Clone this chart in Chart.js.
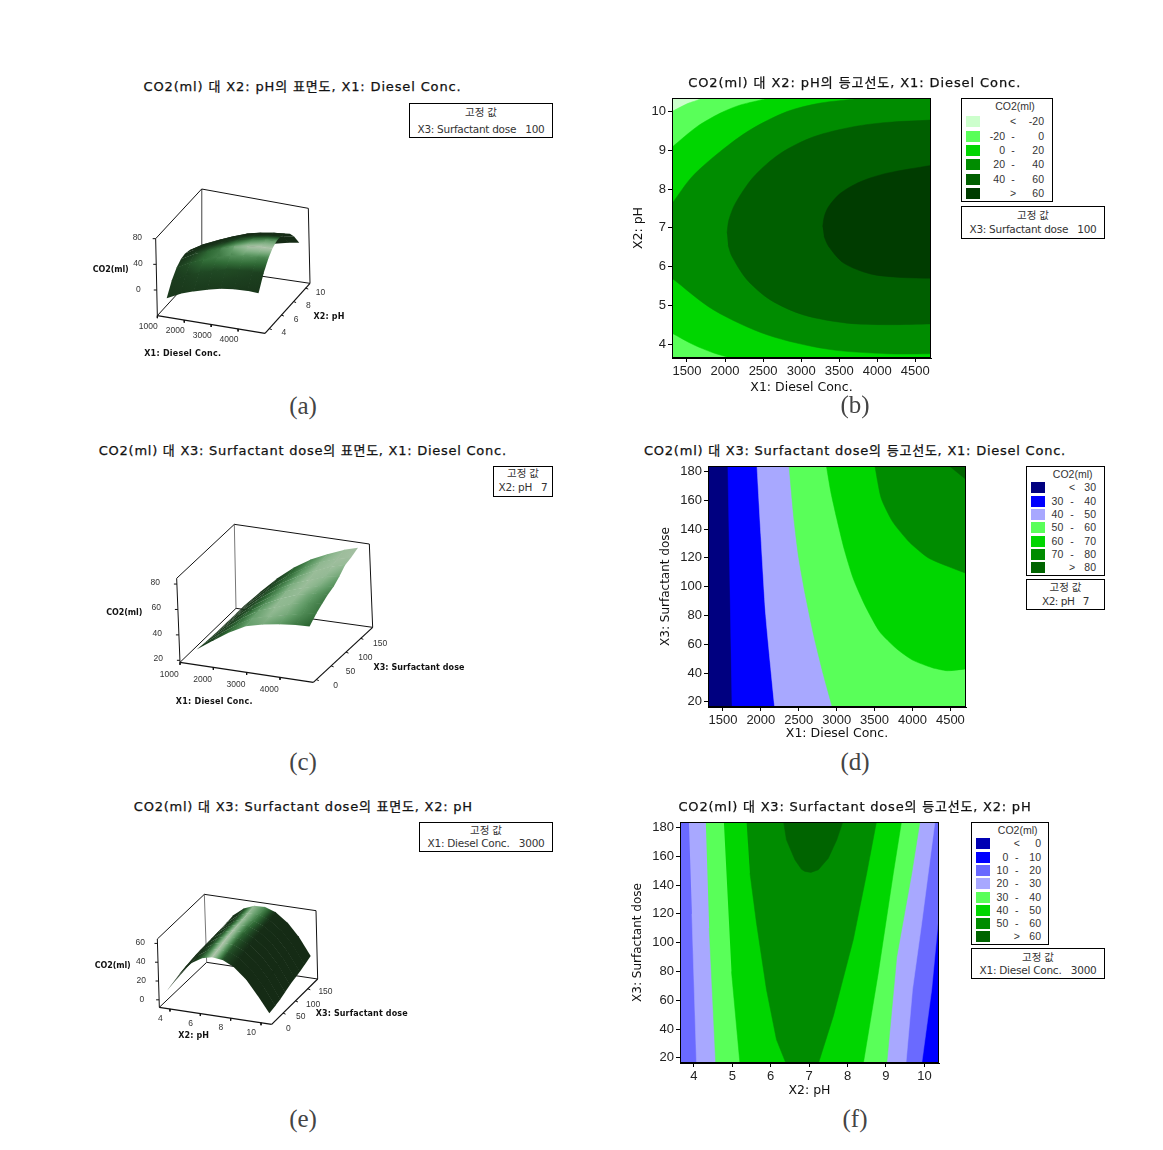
<!DOCTYPE html>
<html lang="ko">
<head>
<meta charset="utf-8">
<script src="https://cdn.jsdelivr.net/npm/chart.js@4"></script>
<style>
html,body{margin:0;padding:0;background:#fff;width:1163px;height:1150px;overflow:hidden}
#stage{position:relative;width:1163px;height:1150px}
canvas{position:absolute;display:block}
.t{position:absolute;white-space:pre;line-height:1;color:#111}
.box{position:absolute;box-sizing:border-box;border:1px solid #000;background:#fff}
.sw{position:absolute}
</style>
</head>
<body>
<div id="stage"></div>
<script>
/* ---------- surface data ---------- */
const x1Grid = [1300,1800,2300,2800,3300,3800,4300,4700];
const phGrid = [3.65,4.5,5.3,6,6.7,7.4,8.1,8.9,9.6,10.35];
const x3Grid = [16.4,40,60,80,100,120,140,160,183.6];

/* panel (a): rows = x1Grid, columns = phGrid */
const co2A_1300 = [-13.4,4.7,16.3,22.2,24,21.8,15.6,3.6,-11.2,-31.5];
const co2A_1800 = [-3.2,15.4,27.5,33.8,36,34.2,28.4,16.9,2.5,-17.4];
const co2A_2300 = [4,23.1,35.7,42.3,44.9,43.6,38.2,27.1,13.1,-6.4];
const co2A_2800 = [10.2,29.8,42.8,49.8,52.9,51.9,46.9,36.3,22.7,3.6];
const co2A_3300 = [15.4,35.4,48.8,56.3,59.7,59.2,54.6,44.4,31.2,12.6];
const co2A_3800 = [17.9,38.5,52.4,60.2,64.1,63.9,59.7,50,37.2,19];
const co2A_4300 = [19,40,54.4,62.6,66.9,67.1,63.3,54.1,41.7,23.9];
const co2A_4700 = [18.4,39.8,54.6,63.2,67.8,68.3,64.9,56,44,26.6];

/* panel (c): rows = x3Grid, columns = x1Grid */
const co2C_016 = [24.3,33.2,41.7,48.5,51.8,54,55.5,56];
const co2C_040 = [23.7,33.5,42.4,49.6,52.9,56,59,61];
const co2C_060 = [23.3,34,43.4,51.3,55.8,60.6,63.5,64.3];
const co2C_080 = [23,34.3,44.2,52.2,58.5,63.5,66.3,67.3];
const co2C_100 = [23,34.7,45.1,53.4,60.2,64.5,68,69.3];
const co2C_120 = [23,35.1,45.9,54.8,61.6,66.3,71,73];
const co2C_140 = [23,35.4,46.5,55.8,63.2,69.4,74.7,77.5];
const co2C_160 = [23,35.7,47.5,57.1,65.3,72,76.5,79];
const co2C_184 = [23,36.1,48.4,58.8,66.9,73.1,78.4,81.5];

/* panel (e): rows = x3Grid, columns = phGrid */
const co2E_016 = [8,27.6,40.8,47.8,50.6,49.3,43.7,32.1,17.5,0.5];
const co2E_040 = [9.5,29,42.5,49.8,52.9,51.7,46.4,35.1,20.7,2];
const co2E_060 = [10.5,30.1,43.9,51.4,54.7,53.8,48.7,37.7,23.6,3.7];
const co2E_080 = [11.5,31.1,45.1,52.8,56.3,55.6,50.6,39.8,25.8,6.2];
const co2E_100 = [12.5,31.6,45.8,53.8,57.5,57,52.3,41.8,28.1,8.7];
const co2E_120 = [13.5,32,46.5,54.6,58.5,58.2,53.7,43.4,29.9,10.6];
const co2E_140 = [13.7,31.8,46.5,54.8,59,58.9,54.7,44.6,31.3,12.4];
const co2E_160 = [14,32.5,47.4,56,60.3,60.4,56.3,46.5,33.4,14.6];
const co2E_184 = [14.5,33.4,48.6,57.4,62,62.3,58.5,48.9,36,17.6];

/* ---------- contour boundaries ---------- */
const bAboveM20 = [[1250,9.95],[1303,10],[1500,10.2],[1700,10.36],[1750,10.6],[4800,10.6],[4800,3],[1250,3]];
const bAbove0 = [[1250,9],[1303,9.08],[1631,9.61],[1938,9.96],[2201,10.17],[2542,10.34],[2700,10.5],[4800,10.6],[4800,3],[2150,3.55],[2069,3.64],[1850,3.77],[1588,3.98],[1303,4.28],[1250,4.33]];
const bAbove20 = [[1250,7.55],[1303,7.63],[1566,8.32],[1938,8.97],[2332,9.53],[2814,10],[3252,10.22],[3734,10.34],[4000,10.5],[4800,10.5],[4800,3.75],[4706,3.75],[4128,3.75],[3340,3.87],[2551,4.24],[1850,4.88],[1303,5.7],[1250,5.78]];
const bAbove40 = [[2026,6.86],[2050,7.2],[2135,7.63],[2376,8.32],[2726,8.92],[3164,9.35],[3690,9.61],[4128,9.72],[4706,9.78],[4800,9.8],[4800,4.52],[4706,4.52],[4128,4.5],[3602,4.54],[3033,4.75],[2595,5.14],[2288,5.66],[2091,6.26],[2040,6.55]];
const bAbove60 = [[3283,7.03],[3305,7.3],[3361,7.55],[3515,7.89],[3778,8.19],[4128,8.41],[4706,8.61],[4800,8.64],[4800,5.7],[4706,5.7],[4303,5.72],[3909,5.81],[3559,6.09],[3361,6.52],[3300,6.78]];
const bColours = ['#ccffcc','#59ff59','#00d600','#008c00','#005f00','#003c00'];
const bRegions = [bAboveM20,bAbove0,bAbove20,bAbove40,bAbove60];
const bXTicks = [1500,2000,2500,3000,3500,4000,4500];
const bYTicks = [4,5,6,7,8,9,10];

const dAbove30 = [[1565,185],[1622,16],[1630,-6],[4900,-6],[4900,205],[1555,205]];
const dAbove40 = [[1948,185],[2000,136],[2065,80],[2183,16],[2230,-6],[4900,-6],[4900,205],[1900,205]];
const dAbove50 = [[2370,185],[2435,147.5],[2500,119.7],[2587,94.2],[2696,66.4],[2826,38.6],[2944,16],[3060,-6],[4900,-6],[4900,205],[2310,205]];
const dAbove60 = [[2861,185],[2922,166],[3000,147.5],[3096,126.7],[3217,105.8],[3370,87.3],[3565,68.8],[3783,57.2],[4000,49],[4261,43.7],[4457,41.6],[4683,42.7],[4900,44],[4900,205],[2800,205]];
const dAbove70 = [[3500,185],[3587,161.4],[3739,145],[3957,131],[4217,119.7],[4683,109.7],[4900,106],[4900,205],[3450,205]];
const dAbove80 = [[4457,185],[4683,175.4],[4900,165],[4900,205],[4300,205]];
const dColours = ['#000080','#0000ff','#a8a8ff','#59ff59','#00d600','#008c00','#006400'];
const dRegions = [dAbove30,dAbove40,dAbove50,dAbove60,dAbove70,dAbove80];
const dXTicks = [1500,2000,2500,3000,3500,4000,4500];
const dYTicks = [20,40,60,80,100,120,140,160,180];

const fAbove10 = [[3,185],[10.5,185],[10.36,114.8],[10.19,67.4],[9.93,16],[3,16]];
const fAbove20 = [[3.87,185],[10.28,185],[9.93,113.6],[9.69,67.4],[9.52,16],[4.07,16],[3.95,120]];
const fAbove30 = [[4.31,185],[9.89,185],[9.67,148],[9.28,90],[9.02,16],[4.57,16],[4.40,110]];
const fAbove40 = [[4.78,185],[9.41,185],[9.19,148],[8.80,79],[8.41,16],[5.2,16],[4.98,80]];
const fAbove50 = [[5.37,185],[8.76,185],[8.50,148.3],[8.15,102.1],[7.63,48.9],[7.24,16],[6.40,16],[6.15,32.7],[5.89,67.4],[5.63,113.6],[5.46,148.3]];
const fAbove60 = [[6.33,185],[6.41,171.4],[6.63,157.6],[6.80,151],[6.89,149.5],[7.05,148.8],[7.24,150.6],[7.50,158.7],[7.72,171.4],[7.89,185]];
const fColours = ['#0000ff','#6a6aff','#a8a8ff','#59ff59','#00d600','#008c00','#006400'];
const fRegions = [fAbove10,fAbove20,fAbove30,fAbove40,fAbove50,fAbove60];
const fXTicks = [4,5,6,7,8,9,10];
const fYTicks = [20,40,60,80,100,120,140,160,180];

/* ---------- legend rows ---------- */
const legendB = [['<','','-20'],['','-20','0'],['','0','20'],['','20','40'],['','40','60'],['>','','60']];
const legendD = [['<','','30'],['','30','40'],['','40','50'],['','50','60'],['','60','70'],['','70','80'],['>','','80']];
const legendF = [['<','','0'],['','0','10'],['','10','20'],['','20','30'],['','30','40'],['','40','50'],['','50','60'],['>','','60']];
const legendFColours = ['#0000b4','#0000ff','#6a6aff','#a8a8ff','#59ff59','#00d600','#008c00','#006400'];

const TITLE_FONT = '"DejaVu Sans","Noto Sans CJK KR",sans-serif';
const TEXT_FONT = '"Liberation Sans","Noto Sans CJK KR",sans-serif';
const stage = document.getElementById('stage');

function txt(s,x,y,o={}){
  const e=document.createElement('span');e.className='t';e.textContent=s;
  e.style.fontFamily=o.family||TEXT_FONT;e.style.fontSize=(o.size||10.5)+'px';
  if(o.bold)e.style.fontWeight='700';
  if(o.stroke)e.style.webkitTextStroke=o.stroke+'px currentColor';
  e.style.color=o.color||'#222';
  stage.appendChild(e);
  if(o.w){const w0=e.getBoundingClientRect().width;e.style.letterSpacing=((o.w-w0)/s.length)+'px';}
  const r=e.getBoundingClientRect();
  const left=o.align==='right'?x-r.width:x-r.width/2;
  e.style.left=left+'px';e.style.top=(y-r.height/2)+'px';
  return e;
}
function rect(l,t,r,b){
  const e=document.createElement('div');e.className='box';
  e.style.cssText=`left:${l}px;top:${t}px;width:${r-l}px;height:${b-t}px`;stage.appendChild(e);
}
function newCanvas(l,t,r,b){
  const c=document.createElement('canvas');c.width=r-l;c.height=b-t;
  c.style.left=l+'px';c.style.top=t+'px';c.style.width=(r-l)+'px';c.style.height=(b-t)+'px';
  stage.appendChild(c);return c;
}
function toPts(p){return p.map(a=>({x:a[0],y:a[1]}));}

/* ---------- contour panels ---------- */
const framePlugin={id:'frame',afterDatasetsDraw(ch){
  const {ctx,chartArea:a}=ch;ctx.save();ctx.strokeStyle='#000';ctx.lineWidth=1;
  ctx.strokeRect(a.left+.5,a.top+.5,a.right-a.left-1,a.bottom-a.top-1);ctx.restore();}};

function contour(c){
  const cv=newCanvas(c.canvas[0],c.canvas[1],c.canvas[2],c.canvas[3]);
  const [xa,xb]=c.xRange,[ya,yb]=c.yRange;
  const base=[[xa-100,ya-100],[xb+100,ya-100],[xb+100,yb+100],[xa-100,yb+100]];
  const layers=[base,...c.regions];
  const ds=layers.map((poly,i)=>({data:toPts(poly),showLine:true,fill:'shape',pointRadius:0,
    backgroundColor:c.colours[i],borderColor:c.colours[i],borderWidth:0.5,tension:i?c.tension:0})).reverse();
  const tickFont={family:'"Liberation Sans"',size:13};
  const titleFont={family:'"DejaVu Sans"',size:12.5};
  new Chart(cv,{type:'scatter',data:{datasets:ds},plugins:[framePlugin],options:{
    responsive:false,animation:false,events:[],
    layout:{padding:{top:c.plot[1]-c.canvas[1],right:c.canvas[2]-c.plot[2],left:0,bottom:0}},
    plugins:{legend:{display:false},tooltip:{enabled:false}},
    scales:{
      x:{type:'linear',min:xa,max:xb,
        grid:{display:true,drawOnChartArea:false,drawTicks:true,tickLength:4,color:'#000'},
        border:{color:'#000'},
        afterBuildTicks(s){s.ticks=c.xTicks.map(v=>({value:v}));},
        ticks:{autoSkip:false,maxRotation:0,color:'#222',font:tickFont,padding:2,callback:v=>String(v)},
        title:{display:true,text:c.xTitle,color:'#111',font:titleFont,padding:0},
        afterFit(s){s.height=c.canvas[3]-c.plot[3];s.paddingLeft=0;s.paddingRight=0;}},
      y:{type:'linear',min:ya,max:yb,
        grid:{display:true,drawOnChartArea:false,drawTicks:true,tickLength:4,color:'#000'},
        border:{color:'#000'},
        afterBuildTicks(s){s.ticks=c.yTicks.map(v=>({value:v}));},
        ticks:{autoSkip:false,color:'#222',font:tickFont,padding:2,callback:v=>String(v)},
        title:{display:true,text:c.yTitle,color:'#111',font:{family:'"DejaVu Sans"',size:c.yTitleSize||12.5},padding:0},
        afterFit(s){s.width=c.plot[0]-c.canvas[0];s.paddingTop=0;s.paddingBottom=0;}}
    }}});
}

contour({canvas:[631,90,940,395],plot:[672,98,931,358],xRange:[1303,4706],yRange:[3.64,10.35],xTicks:bXTicks,yTicks:bYTicks,tension:.3,
  xTitle:'X1: Diesel Conc.',yTitle:'X2: pH',regions:bRegions,colours:bColours});
contour({canvas:[659,458,975,741],plot:[708,466,966,707],xRange:[1303,4706],yRange:[16.4,183.8],xTicks:dXTicks,yTicks:dYTicks,tension:.2,
  xTitle:'X1: Diesel Conc.',yTitle:'X3: Surfactant dose',yTitleSize:12,regions:dRegions,colours:dColours});
contour({canvas:[631,814,948,1098],plot:[680,822,939,1063],xRange:[3.64,10.38],yRange:[16.4,183.8],xTicks:fXTicks,yTicks:fYTicks,tension:0,
  xTitle:'X2: pH',yTitle:'X3: Surfactant dose',yTitleSize:12,regions:fRegions,colours:fColours});

/* ---------- surface panels ---------- */
const RAMP=[[0,[21,43,21]],[.15,[28,63,31]],[.35,[47,106,53]],[.6,[95,154,101]],[.8,[143,184,144]],[1,[176,196,172]]];
function ramp(s){
  s=Math.max(0,Math.min(1,s));
  for(let i=1;i<RAMP.length;i++){
    if(s<=RAMP[i][0]){const [a,ca]=RAMP[i-1],[b,cb]=RAMP[i];const t=(s-a)/(b-a);
      return `rgb(${ca.map((v,k)=>Math.round(v+(cb[k]-v)*t)).join(',')})`;}
  }
  return 'rgb(176,196,172)';
}
function surface(c){
  const [L,T,R,B]=c.canvas;
  const cv=newCanvas(L,T,R,B);const g=cv.getContext('2d');
  const P=(z)=>[z[0]/3+c.offset[0],z[1]/3+c.offset[1]];
  const k={FL:P(c.box.FL),FR:P(c.box.FR),BR:P(c.box.BR),BL:P(c.box.BL),
           tFL:P(c.box.tFL),tFR:P(c.box.tFR),tBR:P(c.box.tBR),tBL:P(c.box.tBL)};
  const proj=(u,v,w)=>{
    const mix=(a,b,t)=>[a[0]+(b[0]-a[0])*t,a[1]+(b[1]-a[1])*t];
    const low=mix(mix(k.FL,k.FR,u),mix(k.BL,k.BR,u),v);
    const up=mix(mix(k.tFL,k.tFR,u),mix(k.tBL,k.tBR,u),v);
    return mix(low,up,w);
  };
  const U=a=>(a-c.uR[0])/(c.uR[1]-c.uR[0]),V=a=>(a-c.vR[0])/(c.vR[1]-c.vR[0]),W=a=>(a-c.wR[0])/(c.wR[1]-c.wR[0]);
  const nu=c.uGrid.length,nv=c.vGrid.length;
  const Z=(i,j)=>W(c.z(i,j));
  const light=c.light,ln=Math.hypot(...light);
  const shade0=(i,j)=>{
    const i0=Math.max(0,i-1),i1=Math.min(nu-1,i+1),j0=Math.max(0,j-1),j1=Math.min(nv-1,j+1);
    const du=(Z(i1,j)-Z(i0,j))/(U(c.uGrid[i1])-U(c.uGrid[i0]));
    const dv=(Z(i,j1)-Z(i,j0))/(V(c.vGrid[j1])-V(c.vGrid[j0]));
    const n=Math.hypot(du,dv,1);
    const d=(-du*light[0]-dv*light[1]+light[2])/(n*ln);
    return Math.pow(Math.max(0,d),c.power);
  };
  const shade=(i,j)=>{
    if(!c.soft)return shade0(i,j);
    let t=0,w=0;
    for(let a=Math.max(0,i-1);a<=Math.min(nu-1,i+1);a++)for(let b=Math.max(0,j-1);b<=Math.min(nv-1,j+1);b++){
      const q=(a===i?2:1)*(b===j?2:1);t+=shade0(a,b)*q;w+=q;}
    return t/w;
  };
  const quads=[];
  for(let i=0;i<nu-1;i++)for(let j=0;j<nv-1;j++){
    const cs=[[i,j],[i+1,j],[i+1,j+1],[i,j+1]];
    const pts=cs.map(([a,b])=>proj(U(c.uGrid[a]),V(c.vGrid[b]),Z(a,b)));
    const sh=cs.map(([a,b])=>shade(a,b));
    const mu=(U(c.uGrid[i])+U(c.uGrid[i+1]))/2,mv=(V(c.vGrid[j])+V(c.vGrid[j+1]))/2;
    const mw=cs.reduce((s,[a,b])=>s+Z(a,b),0)/4;
    quads.push({pts,sh,depth:.55*mu-1.3*mv+mw});
  }
  quads.sort((a,b)=>b.depth-a.depth);
  const paint=q=>{
    const [p0,p1,p2,p3]=q.pts,[s0,s1,s2,s3]=q.sh;
    const d1=[p2[0]-p0[0],p2[1]-p0[1]],d2=[p1[0]-p3[0],p1[1]-p3[1]],a=s2-s0,b=s1-s3;
    const det=d1[0]*d2[1]-d1[1]*d2[0];
    const mean=(s0+s1+s2+s3)/4;
    if(Math.abs(det)<1e-3)return ramp(mean);
    const gx=(a*d2[1]-b*d1[1])/det,gy=(d1[0]*b-d2[0]*a)/det,gg=gx*gx+gy*gy;
    if(gg<1e-9)return ramp(mean);
    const cx=(p0[0]+p1[0]+p2[0]+p3[0])/4-L,cy=(p0[1]+p1[1]+p2[1]+p3[1])/4-T;
    const lo=Math.min(s0,s1,s2,s3),hi=Math.max(s0,s1,s2,s3);
    const t0=(lo-mean)/gg,t1=(hi-mean)/gg;
    const gr=g.createLinearGradient(cx+gx*t0,cy+gy*t0,cx+gx*t1,cy+gy*t1);
    for(let n=0;n<=4;n++)gr.addColorStop(n/4,ramp(lo+(hi-lo)*n/4));
    return gr;
  };
  /* each facet is grown a hair so neighbours overlap with no seam */
  const ds=quads.map(q=>{const col=paint(q);
    const mx=q.pts.reduce((s,p)=>s+p[0],0)/4,my=q.pts.reduce((s,p)=>s+p[1],0)/4;
    return {data:q.pts.map(p=>({x:mx+(p[0]-mx)*1.05,y:my+(p[1]-my)*1.05})),showLine:true,fill:'shape',
    pointRadius:0,backgroundColor:col,borderColor:'rgba(0,0,0,0)',borderWidth:0,tension:0};});
  const seg=(a,b,col,w)=>ds.push({data:[{x:a[0],y:a[1]},{x:b[0],y:b[1]}],showLine:true,fill:false,pointRadius:0,borderColor:col,borderWidth:w});
  seg(k.tFL,k.FL,'#111',1);seg(k.tFL,k.tBL,'#111',1);seg(k.tBL,k.tBR,'#111',1);seg(k.tBR,k.BR,'#111',1);
  seg(k.tBL,k.BL,'#777',1);seg(k.FL,k.FR,'#111',1.4);seg(k.FR,k.BR,'#111',1.2);seg(k.FL,k.BL,'#111',1);seg(k.BL,k.BR,'#111',1);
  /* ticks and their labels */
  c.uTicks.forEach(t=>{const p=proj(U(t),0,0);seg(p,[p[0],p[1]+2.5],'#111',1);
    txt(String(t),p[0]+c.uOff[0],p[1]+c.uOff[1],{size:8.5,color:'#333'});});
  c.vTicks.forEach(t=>{const p=proj(1,V(t),0);if(V(t)>=0)seg(p,[p[0]+2.5,p[1]+1],'#111',1);
    txt(String(t),p[0]+c.vOff[0],p[1]+c.vOff[1],{size:8.5,color:'#333'});});
  c.wTicks.forEach(t=>{const p=proj(0,0,W(t));seg(p,[p[0]-3,p[1]],'#111',1);
    txt(String(t),p[0]+c.wOff[0],p[1]+c.wOff[1],{size:8.5,color:'#333'});});
  new Chart(cv,{type:'scatter',data:{datasets:ds},options:{responsive:false,animation:false,events:[],
    layout:{padding:0},plugins:{legend:{display:false},tooltip:{enabled:false}},
    scales:{x:{type:'linear',display:false,min:L,max:R},y:{type:'linear',display:false,min:T,max:B,reverse:true}}}});
  c.labels.forEach(l=>txt(l[0],l[1],l[2],{size:8,bold:true,family:'"DejaVu Sans"',w:l[3],color:'#111'}));
}

surface({canvas:[60,170,380,370],offset:[80,70],
  box:{FL:[232,737],FR:[555,790],BR:[690,640],BL:[365,592],tFL:[227,506],tFR:[551,562],tBR:[685,415],tBL:[365,357]},
  uR:[1000,5000],vR:[3.3,10.7],wR:[-40,80],uGrid:x1Grid,vGrid:phGrid,
  z:(i,j)=>[co2A_1300,co2A_1800,co2A_2300,co2A_2800,co2A_3300,co2A_3800,co2A_4300,co2A_4700][i][j],
  light:[-.1,-.5,1],power:16,
  uTicks:[1000,2000,3000,4000],vTicks:[4,6,8,10],wTicks:[0,40,80],
  uOff:[-9,10.3],vOff:[14.7,3.7],wOff:[-18.3,-1],
  labels:[['CO2(ml)',110.7,270,36],['X1: Diesel Conc.',182.7,354,77],['X2: pH',329,317,31]]});

surface({canvas:[80,500,400,700],offset:[80,435],
  box:{FL:[300,682],FR:[700,742],BR:[878,577],BL:[468,520],tFL:[290,430],tFR:[691,492],tBR:[868,327],tBL:[463,268]},
  uR:[1000,5000],vR:[-10,190],wR:[18.4,84.5],uGrid:x1Grid,vGrid:x3Grid,
  z:(i,j)=>[co2C_016,co2C_040,co2C_060,co2C_080,co2C_100,co2C_120,co2C_140,co2C_160,co2C_184][j][i],
  light:[-.45,-.3,.85],power:18,soft:true,
  uTicks:[1000,2000,3000,4000],vTicks:[0,50,100,150],wTicks:[20,40,60,80],
  uOff:[-10.7,12],vOff:[19.3,5.3],wOff:[-21.7,-2],
  labels:[['CO2(ml)',124.3,613,36],['X1: Diesel Conc.',214.3,702.3,77],['X3: Surfactant dose',419,667.7,91]]});

surface({canvas:[80,880,340,1040],offset:[80,790],
  box:{FL:[238,652],FR:[575,703],BR:[713,567],BL:[380,517],tFL:[232,447],tFR:[569,498],tBR:[708,362],tBL:[373,313]},
  uR:[3.3,10.7],vR:[4,190],wR:[-8,64.7],uGrid:phGrid,vGrid:x3Grid,
  z:(i,j)=>[co2E_016,co2E_040,co2E_060,co2E_080,co2E_100,co2E_120,co2E_140,co2E_160,co2E_184][j][i],
  light:[-.12,-.18,.97],power:9,
  uTicks:[4,6,8,10],vTicks:[0,50,100,150],wTicks:[0,20,40,60],
  uOff:[-9.7,9.3],vOff:[17.7,3],wOff:[-17.3,-.7],
  labels:[['CO2(ml)',112.7,966.3,36],['X2: pH',193.7,1036.3,31],['X3: Surfactant dose',361.7,1013.7,92]]});

/* ---------- titles ---------- */
const titles=[
 ['CO2(ml) 대 X2: pH의 표면도, X1: Diesel Conc.',302.5,86.7,318],
 ['CO2(ml) 대 X2: pH의 등고선도, X1: Diesel Conc.',854.7,82.3,333],
 ['CO2(ml) 대 X3: Surfactant dose의 표면도, X1: Diesel Conc.',302.8,450.7,408],
 ['CO2(ml) 대 X3: Surfactant dose의 등고선도, X1: Diesel Conc.',855,450.7,422],
 ['CO2(ml) 대 X3: Surfactant dose의 표면도, X2: pH',303.3,806.7,339],
 ['CO2(ml) 대 X3: Surfactant dose의 등고선도, X2: pH',855,806.7,353]];
titles.forEach(t=>txt(t[0],t[1],t[2],{family:TITLE_FONT,size:13,w:t[3],color:'#111',stroke:.25}));

/* ---------- captions ---------- */
[['(a)',303,405],['(b)',855,404],['(c)',303,761],['(d)',855,761],['(e)',303,1118],['(f)',855,1118]]
 .forEach(c=>txt(c[0],c[1],c[2],{family:'"Liberation Serif"',size:25,color:'#444'}));

/* ---------- fixed value boxes ---------- */
function fixedBox(l,t,r,b,line,y1,y2,w){
  rect(l,t,r,b);
  txt('고정 값',(l+r)/2,y1,{size:10.5,w:32,color:'#333'});
  txt(line,(l+r)/2,y2,{size:10.5,family:'"DejaVu Sans"',w,color:'#333'});
}
fixedBox(409,103,553,138,'X3: Surfactant dose   100',112.7,129,127);
fixedBox(961,206,1105,239,'X3: Surfactant dose   100',215,229.3,127);
fixedBox(493,466,553,497,'X2: pH   7',473.7,487.7,49);
fixedBox(1026,579,1105,610,'X2: pH   7',587.7,601.3,47);
fixedBox(419,822,553,852,'X1: Diesel Conc.   3000',830,843.3,117);
fixedBox(971,948,1105,979,'X1: Diesel Conc.   3000',957.3,970.3,117);

/* ---------- contour legends ---------- */
function legend(box,headX,headY,swX,rowYs,colours,rows,lowR,dashX,highR){
  rect(box[0],box[1],box[2],box[3]);
  txt('CO2(ml)',headX,headY,{size:10.5,color:'#333'});
  rows.forEach((r,i)=>{
    const s=document.createElement('div');s.className='sw';
    s.style.cssText=`left:${swX}px;top:${rowYs[i]-5.5}px;width:14px;height:11px;background:${colours[i]}`;
    stage.appendChild(s);
    if(r[0])txt(r[0],dashX,rowYs[i],{size:10.5,color:'#333'});
    else{txt(r[1],lowR,rowYs[i],{size:10.5,align:'right',color:'#333'});txt('-',dashX,rowYs[i],{size:10.5,color:'#333'});}
    txt(r[2],highR,rowYs[i],{size:10.5,align:'right',color:'#333'});
  });
}
legend([961,98,1053,202],1015,106,966,[121.7,136.3,150.3,164.7,179.3,193.7],bColours,legendB,1005,1013,1044);
legend([1026,466,1105,576],1072.7,474.3,1031,[487.7,501,514.3,527.7,541,554.3,567.3],dColours,legendD,1063.3,1072,1096);
legend([971,822,1049,945],1017.7,830,976,[843.3,857.3,870.3,883.7,897,910.3,923.3,936.7],legendFColours,legendF,1008.3,1016.7,1041);
</script>
</body>
</html>
